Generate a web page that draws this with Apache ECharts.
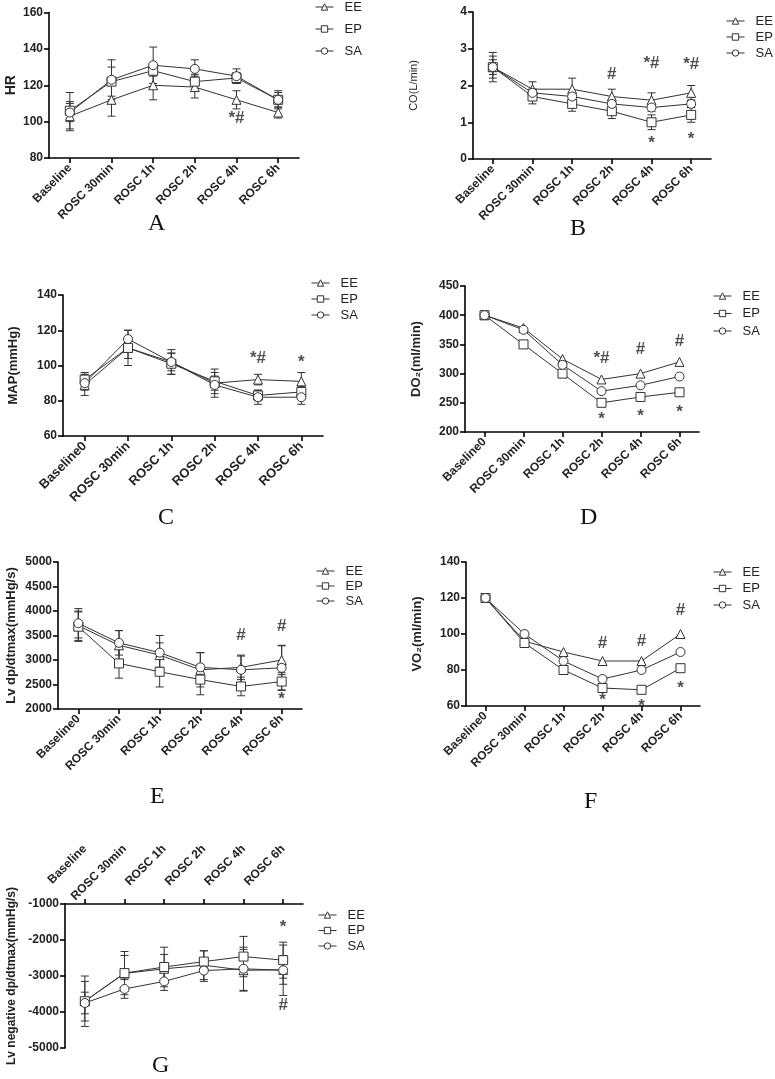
<!DOCTYPE html>
<html><head><meta charset="utf-8">
<script src="https://cdn.jsdelivr.net/npm/echarts@6/dist/echarts.min.js"></script>
<style>html,body{margin:0;padding:0;background:#fff}#c{width:775px;height:1079px}</style>
</head><body><div id="c"></div>
<script>
// ---------- categories ----------
const categories  = ['Baseline', 'ROSC 30min', 'ROSC 1h', 'ROSC 2h', 'ROSC 4h', 'ROSC 6h'];
const categories0 = ['Baseline0', 'ROSC 30min', 'ROSC 1h', 'ROSC 2h', 'ROSC 4h', 'ROSC 6h'];
const groupNames = ['EE', 'EP', 'SA'];

// ---------- A: HR ----------
const hrEE = [103, 112, 120, 119, 112, 105];
const hrEP = [106, 122, 128, 122, 124, 112];
const hrSA = [105, 123, 131, 129, 125, 112];
const hrEEsd = [8, 9, 8, 6, 5, 3];
const hrEPsd = [10, 8, 3, 4, 3, 5];
const hrSAsd = [5, 11, 10, 5, 4, 4];
const hrNotes = [[4, 102, '*#']];

// ---------- B: CO ----------
const coEE = [2.5, 1.9, 1.9, 1.7, 1.6, 1.8];
const coEP = [2.5, 1.7, 1.5, 1.3, 1.0, 1.2];
const coSA = [2.5, 1.8, 1.7, 1.5, 1.4, 1.5];
const coEEsd = [0.4, 0.2, 0.3, 0.2, 0.2, 0.2];
const coEPsd = [0.3, 0.2, 0.2, 0.2, 0.2, 0.2];
const coSAsd = [0.2, 0.1, 0.1, 0.1, 0.1, 0.1];
const coNotes = [[3, 2.3, '#'], [4, 2.6, '*#'], [5, 2.57, '*#'], [4, 0.53, '*'], [5, 0.65, '*']];

// ---------- C: MAP ----------
const mapEE = [89, 110, 102, 90, 92, 91];
const mapEP = [92, 110, 101, 91, 83, 85];
const mapSA = [90, 115, 102, 89, 82, 82];
const mapEEsd = [6, 10, 7, 8, 3, 5];
const mapEPsd = [4, 6, 6, 5, 3, 3];
const mapSAsd = [4, 5, 5, 5, 4, 4];
const mapNotes = [[4, 104, '*#'], [5, 104, '*']];

// ---------- D: DO2 ----------
const doEE = [400, 378, 325, 290, 300, 320];
const doEP = [400, 350, 300, 250, 260, 268];
const doSA = [400, 375, 315, 270, 280, 295];
const doNotes = [[3, 327, '*#'], [4, 341, '#'], [5, 355, '#'], [3, 228, '*'], [4, 234, '*'], [5, 241, '*']];

// ---------- E: Lv dp/dtmax ----------
const lvEE = [3700, 3300, 3100, 2800, 2850, 3000];
const lvEP = [3680, 2930, 2760, 2600, 2460, 2560];
const lvSA = [3750, 3350, 3150, 2850, 2800, 2840];
const lvEEsd = [300, 300, 250, 350, 250, 300];
const lvEPsd = [300, 300, 310, 310, 190, 180];
const lvSAsd = [300, 250, 350, 300, 280, 450];
const lvNotes = [[4, 3510, '#'], [5, 3694, '#'], [5, 2270, '*']];

// ---------- F: VO2 ----------
const voEE = [120, 96, 90, 85, 85, 100];
const voEP = [120, 95, 80, 70, 69, 81];
const voSA = [120, 100, 85, 75, 80, 90];
const voNotes = [[3, 95, '#'], [4, 96, '#'], [5, 113, '#'], [3, 65.5, '*'], [4, 62, '*'], [5, 72, '*']];

// ---------- G: Lv negative dp/dtmax ----------
const lnEE = [-3700, -2930, -2800, -2700, -2840, -2830];
const lnEP = [-3700, -2920, -2750, -2600, -2460, -2560];
const lnSA = [-3750, -3360, -3150, -2850, -2800, -2840];
const lnEEsd = [700, 500, 400, 400, 580, 400];
const lnEPsd = [550, 600, 550, 300, 560, 500];
const lnSAsd = [300, 260, 250, 300, 600, 700];
const lnNotes = [[5, -1535, '*'], [5, -3820, '#']];

// ---------- panel layout ----------
const panels = [
  {letter:'A', lpos:[156,225], cats:categories, grid:{left:49,top:12.5,width:250,height:145.5},
   y:{min:80,max:160,interval:20}, name:'HR', nameGap:31, nameSize:14, nameBold:true,
   data:[hrEE,hrEP,hrSA], sd:[hrEEsd,hrEPsd,hrSAsd], notes:hrNotes,
   legend:{left:315, top:0, gap:8, h:14}, xls:12},
  {letter:'B', lpos:[578,230], cats:categories, grid:{left:473,top:12,width:238,height:147},
   y:{min:0,max:4,interval:1}, name:'CO(L/min)', nameGap:54, nameSize:11, nameBold:false,
   data:[coEE,coEP,coSA], sd:[coEEsd,coEPsd,coSAsd], notes:coNotes,
   legend:{left:726, top:14, gap:2, h:14}, xls:12},
  {letter:'C', lpos:[166,519], cats:categories0, grid:{left:63,top:295,width:260,height:141},
   y:{min:60,max:140,interval:20}, name:'MAP(mmHg)', nameGap:43, nameSize:13, nameBold:true,
   data:[mapEE,mapEP,mapSA], sd:[mapEEsd,mapEPsd,mapSAsd], notes:mapNotes,
   legend:{left:311, top:276, gap:2, h:14}, xls:13},
  {letter:'D', lpos:[588,519], cats:categories0, grid:{left:465,top:286,width:234,height:146},
   y:{min:200,max:450,interval:50}, name:'DO₂(ml/min)', nameGap:42, nameSize:13, nameBold:true,
   data:[doEE,doEP,doSA], sd:null, notes:doNotes,
   legend:{left:713, top:289, gap:3.5, h:14}, xls:12},
  {letter:'E', lpos:[158,798], cats:categories0, grid:{left:58,top:562,width:244,height:147},
   y:{min:2000,max:5000,interval:500}, name:'Lv dp/dtmax(mmHg/s)', nameGap:40, nameSize:13, nameBold:true,
   data:[lvEE,lvEP,lvSA], sd:[lvEEsd,lvEPsd,lvSAsd], notes:lvNotes,
   legend:{left:316, top:564, gap:1, h:14}, xls:12},
  {letter:'F', lpos:[592,803], cats:categories0, grid:{left:466,top:562,width:234,height:144},
   y:{min:60,max:140,interval:20}, name:'VO₂(ml/min)', nameGap:42, nameSize:13, nameBold:true,
   data:[voEE,voEP,voSA], sd:null, notes:voNotes,
   legend:{left:713, top:565, gap:2.5, h:14}, xls:12},
  {letter:'G', lpos:[160,1067], cats:categories, grid:{left:65,top:904,width:238,height:144},
   y:{min:-5000,max:-1000,interval:1000}, name:'Lv negative dp/dtmax(mmHg/s)', nameGap:47, nameSize:12, nameBold:true,
   data:[lnEE,lnEP,lnSA], sd:[lnEEsd,lnEPsd,lnSAsd], notes:lnNotes,
   legend:{left:318, top:908, gap:1.5, h:14}, xls:12, top:true}
];

const symbols = ['triangle', 'rect', 'circle'];
const symbolSizes = [9, 9, 9];
const INK = '#222';
const FONT = '"Liberation Sans", Arial, sans-serif';

function errRender(params, api) {
  const x = api.value(0);
  const lo = api.coord([x, api.value(1)]);
  const hi = api.coord([x, api.value(2)]);
  const w = 4;
  const st = {stroke: '#333', lineWidth: 1};
  return {type: 'group', children: [
    {type: 'line', shape: {x1: hi[0], y1: hi[1], x2: lo[0], y2: lo[1]}, style: st},
    {type: 'line', shape: {x1: hi[0] - w, y1: hi[1], x2: hi[0] + w, y2: hi[1]}, style: st},
    {type: 'line', shape: {x1: lo[0] - w, y1: lo[1], x2: lo[0] + w, y2: lo[1]}, style: st}
  ]};
}

const grid = [], xAxis = [], yAxis = [], series = [], legend = [], graphic = [];
panels.forEach((p, i) => {
  grid.push(Object.assign({containLabel: false}, p.grid));
  const isTop = !!p.top;
  xAxis.push({
    type: 'category', gridIndex: i, data: p.cats, boundaryGap: true,
    position: isTop ? 'top' : 'bottom',
    axisLine: {show: true, lineStyle: {color: '#000', width: 1.6}},
    axisTick: {show: true, alignWithLabel: true, length: 5, lineStyle: {color: '#000', width: 1.6}},
    axisLabel: isTop
      ? {rotate: -45, align: 'right', verticalAlign: 'middle', margin: 57, fontSize: p.xls, fontWeight: 'bold', color: INK, fontFamily: FONT, interval: 0}
      : {rotate: 45, margin: 8, fontSize: p.xls, fontWeight: 'bold', color: INK, fontFamily: FONT, interval: 0},
    splitLine: {show: false}
  });
  yAxis.push({
    type: 'value', gridIndex: i, min: p.y.min, max: p.y.max, interval: p.y.interval,
    name: p.name, nameLocation: 'middle', nameGap: p.nameGap, nameRotate: 90,
    nameTextStyle: {fontSize: p.nameSize, fontWeight: p.nameBold ? 'bold' : 'normal', color: INK, fontFamily: FONT},
    axisLine: {show: true, lineStyle: {color: '#000', width: 1.6}},
    axisTick: {show: true, length: 5, lineStyle: {color: '#000', width: 1.6}},
    axisLabel: {fontSize: 12, fontWeight: 'bold', color: INK, fontFamily: FONT, margin: 6, formatter: v => String(v)},
    splitLine: {show: false}
  });
  p.data.forEach((arr, s) => {
    if (p.sd) {
      series.push({
        type: 'custom', xAxisIndex: i, yAxisIndex: i, z: 2, silent: true,
        renderItem: errRender, encode: {x: 0, y: [1, 2]},
        data: arr.map((v, k) => [k, v - p.sd[s][k], v + p.sd[s][k]])
      });
    }
  });
  p.data.forEach((arr, s) => {
    series.push({
      name: groupNames[s], type: 'line', xAxisIndex: i, yAxisIndex: i, z: 3,
      data: arr, symbol: symbols[s], symbolSize: symbolSizes[s], showAllSymbol: true,
      lineStyle: {color: '#333', width: 1},
      itemStyle: {color: '#fff', borderColor: '#333', borderWidth: 1},
      animation: false
    });
  });
  series.push({
    type: 'scatter', xAxisIndex: i, yAxisIndex: i, z: 4, silent: true,
    symbolSize: 1, itemStyle: {color: 'rgba(0,0,0,0)'},
    data: p.notes.map(n => ({value: [n[0], n[1]], name: n[2],
      label: n[2] === '*' ? {offset: [0, 4]} : {}})),
    label: {show: true, position: 'inside', formatter: '{b}', fontSize: 17, fontWeight: 'bold', color: INK, fontFamily: FONT}
  });
  legend.push({
    data: groupNames, orient: 'vertical', left: p.legend.left, top: p.legend.top,
    itemGap: p.legend.gap, itemWidth: 18, itemHeight: 8, padding: 0, selectedMode: false,
    itemStyle: {color: '#fff', borderColor: '#333', borderWidth: 1},
    lineStyle: {color: '#333', width: 1},
    textStyle: {fontSize: 13, color: INK, fontFamily: FONT, lineHeight: p.legend.h, padding: [0, 0, 0, 6]}
  });
  graphic.push({
    type: 'text', left: p.lpos[0] - 8, top: p.lpos[1] - 13,
    style: {text: p.letter, font: '24px "Liberation Serif", "DejaVu Serif", serif', fill: '#111'}
  });
});

const chart = echarts.init(document.getElementById('c'), null, {renderer: 'canvas'});
chart.setOption({
  animation: false,
  backgroundColor: '#fff',
  textStyle: {fontFamily: FONT},
  grid, xAxis, yAxis, series, legend, graphic
});
</script></body></html>
